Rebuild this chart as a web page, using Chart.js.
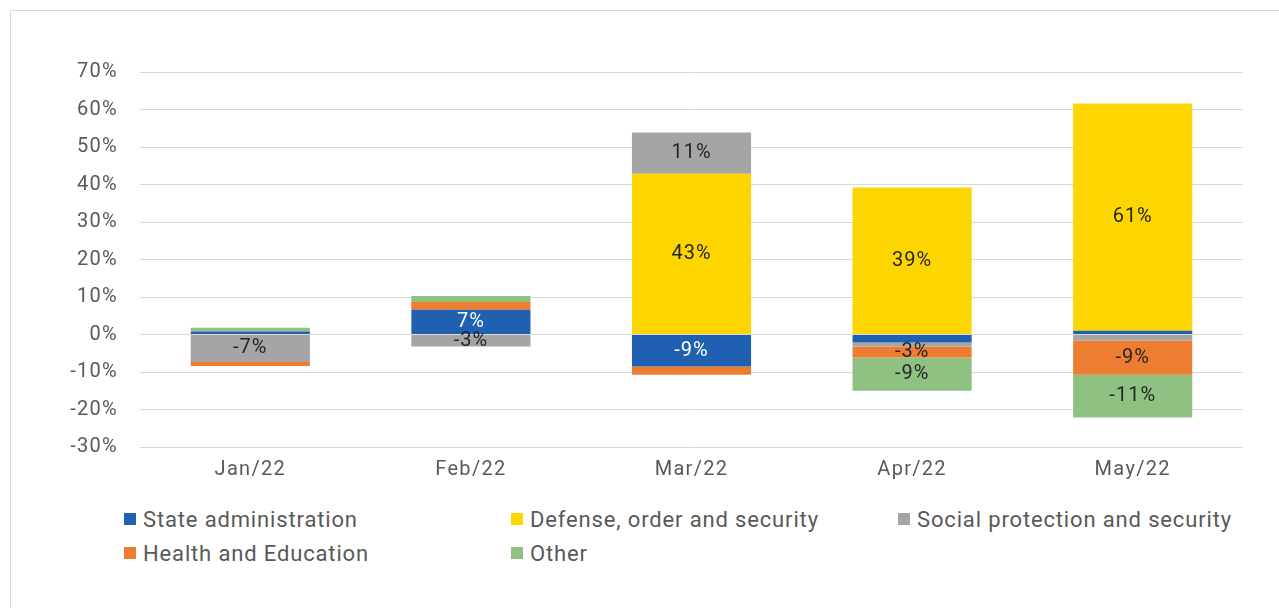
<!DOCTYPE html>
<html>
<head>
<meta charset="utf-8">
<script src="https://cdn.jsdelivr.net/npm/chart.js@4"></script>
<style>
  body { margin: 0; background: #fff; font-family: 'Roboto', sans-serif; }
  #frame { position: absolute; left: 10px; top: 10px; width: 1280px; height: 620px; border: 1px solid #d9d9d9; box-sizing: border-box; }
  #wrap { position: absolute; left: 0; top: 0; width: 1279px; height: 493px; }
  #legend { position: absolute; left: 124px; top: 507px; display: grid; grid-template-columns: 387px 387px 387px; row-gap: 10px; color: #595959; font-size: 22px; letter-spacing: 0.85px; }
  #legend div { display: flex; align-items: center; height: 24px; white-space: nowrap; }
  #legend span.box { width: 12px; height: 12px; margin-right: 7px; display: inline-block; }
</style>
</head>
<body>
<div id="frame"></div>
<div id="wrap"><canvas id="chart1"></canvas></div>
<div id="legend"></div>
<script>
var months = ['Jan/22', 'Feb/22', 'Mar/22', 'Apr/22', 'May/22'];
var seriesNames = ['State administration', 'Defense, order and security', 'Social protection and security', 'Health and Education', 'Other'];
var stateAdmin = [0.8, 6.6, -8.5, -2.1, 1.0];
var defense = [0, 0, 42.9, 39.2, 60.6];
var socialProt = [-7.3, -3.2, 11.0, -1.1, -1.6];
var healthEdu = [-1.1, 2.1, -2.2, -2.9, -9.1];
var other = [1.0, 1.6, 0, -8.9, -11.4];
var yTicks = [70, 60, 50, 40, 30, 20, 10, 0, -10, -20, -30];

var colors = ['#1f61b0', '#fdd500', '#a5a5a5', '#ed7d31', '#8fc182'];
var labelColors = ['#ffffff', '#262626', '#262626', '#262626', '#262626'];
var allData = [stateAdmin, defense, socialProt, healthEdu, other];

function fmt(v) {
  var r = Math.round(Math.abs(v));
  return (v < 0 ? '-' : '') + r + '%';
}

// wider letter spacing for all canvas text (closer to the DIN look)
var spacing = {
  id: 'spacing',
  beforeDraw(chart) { chart.ctx.letterSpacing = '1.3px'; }
};

// draws the value in the middle of each segment (big enough ones only)
var barLabels = {
  id: 'barLabels',
  afterDatasetsDraw(chart) {
    var ctx = chart.ctx;
    ctx.save();
    ctx.font = '20px Roboto';
    ctx.letterSpacing = '1px';
    ctx.textAlign = 'center';
    ctx.textBaseline = 'middle';
    chart.data.datasets.forEach(function (ds, i) {
      var meta = chart.getDatasetMeta(i);
      meta.data.forEach(function (bar, j) {
        var v = ds.data[j];
        if (Math.abs(v) < 2.5) return;
        ctx.fillStyle = labelColors[i];
        ctx.fillText(fmt(v), bar.x, (bar.y + bar.base) / 2);
      });
    });
    ctx.restore();
  }
};

var datasets = allData.map(function (d, i) {
  return {
    label: seriesNames[i],
    data: d,
    backgroundColor: colors[i],
    borderWidth: 0,
    barPercentage: 0.54,
    categoryPercentage: 1.0
  };
});

var legend = document.getElementById('legend');
seriesNames.forEach(function (n, i) {
  var el = document.createElement('div');
  el.innerHTML = '<span class="box" style="background:' + colors[i] + '"></span>' + n;
  legend.appendChild(el);
});

let chart1 = document.getElementById('chart1').getContext('2d');
let barChart = new Chart(chart1, {
  type: 'bar',
  data: { labels: months, datasets: datasets },
  plugins: [spacing, barLabels],
  options: {
    responsive: true,
    maintainAspectRatio: false,
    animation: false,
    layout: { padding: { top: 72, right: 36, bottom: 8, left: 0 } },
    plugins: { legend: { display: false }, tooltip: { enabled: false } },
    scales: {
      x: {
        stacked: true,
        grid: { display: false },
        border: { display: false },
        ticks: { color: '#595959', font: { family: 'Roboto', size: 20 }, padding: 3 }
      },
      y: {
        stacked: true,
        min: -30,
        max: 70,
        afterFit: function (s) { s.width = 140; },
        afterBuildTicks: function (s) { s.ticks = yTicks.map(function (v) { return { value: v }; }); },
        grid: { color: '#d9d9d9', drawTicks: false },
        border: { display: false },
        ticks: {
          color: '#595959',
          font: { family: 'Roboto', size: 20 },
          padding: 22,
          callback: function (v) { return v + '%'; }
        }
      }
    }
  }
});
</script>
</body>
</html>
